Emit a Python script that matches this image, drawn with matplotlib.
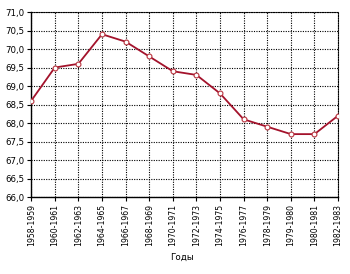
import matplotlib.pyplot as plt

years = ['1958-1959', '1960-1961', '1962-1963', '1964-1965', '1966-1967',
         '1968-1969', '1970-1971', '1972-1973', '1974-1975', '1976-1977',
         '1978-1979', '1979-1980', '1980-1981', '1982-1983']
life = [68.6, 69.5, 69.6, 70.4, 70.2, 69.8, 69.4, 69.3, 68.8, 68.1,
        67.9, 67.7, 67.7, 68.2]
yticks = [66.0 + 0.5 * i for i in range(11)]

fig = plt.figure(figsize=(3.5, 2.74), dpi=100)
ax = fig.add_axes([0.089, 0.281, 0.877, 0.675])

x = list(range(len(years)))
ax.plot(x, life, color='#a3122b', lw=1.3, marker='o', ms=3.5,
        mfc='white', mec='#b8343f', mew=0.8, zorder=3)

ax.set_xlim(0, len(years) - 1)
ax.set_ylim(66, 71)
ax.set_xticks(x)
ax.set_xticklabels(years, rotation=90, fontsize=5.6)
ax.set_yticks(yticks)
ax.set_yticklabels([('%.1f' % v).replace('.', ',') for v in yticks], fontsize=6.2)
ax.tick_params(length=3, width=0.8, pad=2)

ax.grid(True, color='black', ls=(0, (1.0, 1.2)), lw=0.8)
for s in ['top', 'right']:
    ax.spines[s].set_linestyle((0, (1.0, 1.2)))
    ax.spines[s].set_linewidth(0.8)
for s in ['left', 'bottom']:
    ax.spines[s].set_linewidth(1.0)

fig.text(0.52, 0.062, 'Годы', fontsize=6.3, ha='center', va='center')

fig.savefig('out.png', dpi=100)
